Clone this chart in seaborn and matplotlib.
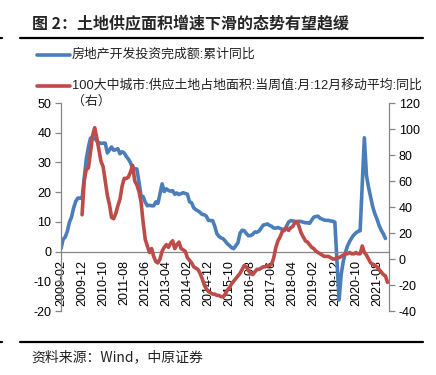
import numpy as np
import pandas as pd
import matplotlib
matplotlib.use("Agg")
import matplotlib.pyplot as plt
from matplotlib.lines import Line2D
import seaborn as sns

# -------------------------------
# Data (month index 0 = 2009-02)
# -------------------------------
nan = np.nan
# 房地产开发投资完成额:累计同比 (Jan has no value)
invest_yoy = [
    1.0, 4.1, 4.9, 6.8, 9.9, 11.6, 14.7, 16.9, 18.0, 18.0, 17.9, nan,        # 2009
    31.1, 35.1, 38.2, 38.2, 38.1, 37.2, 36.7, 36.4, 36.5, 36.5, 33.2, nan,   # 2010
    35.2, 34.1, 34.3, 34.6, 32.9, 33.6, 33.2, 32.0, 31.1, 29.9, 27.9, nan,   # 2011
    27.8, 23.5, 18.7, 18.5, 16.6, 15.4, 15.6, 15.4, 15.4, 16.7, 16.2, nan,   # 2012
    22.8, 20.2, 21.1, 20.6, 20.3, 20.5, 19.3, 19.7, 19.2, 19.5, 19.8, nan,   # 2013
    19.3, 16.8, 16.4, 14.7, 14.1, 13.7, 13.2, 12.5, 12.4, 11.9, 10.5, nan,   # 2014
    10.4, 8.5, 6.0, 5.1, 4.6, 4.3, 3.5, 2.6, 2.0, 1.3, 1.0, nan,             # 2015
    3.0, 6.2, 7.2, 7.0, 6.1, 5.3, 5.4, 5.8, 6.6, 6.5, 6.9, nan,              # 2016
    8.9, 9.1, 9.3, 8.8, 8.5, 7.9, 7.9, 8.1, 7.8, 7.5, 7.0, nan,              # 2017
    9.9, 10.4, 10.3, 10.2, 9.7, 10.2, 10.1, 9.9, 9.7, 9.7, 9.5, nan,         # 2018
    11.6, 11.8, 11.9, 11.2, 10.9, 10.6, 10.5, 10.5, 10.3, 10.2, 9.9, nan,    # 2019
    -16.3, -7.7, -3.3, -0.3, 1.9, 3.4, 4.6, 5.6, 6.3, 6.8, 7.0, nan,         # 2020
    38.3, 25.6, 21.6, 18.3, 15.0, 12.7, 10.9, 8.8, 7.2, 6.0, 4.4,            # 2021
]

# 100大中城市 land supply, 12M moving average YoY, starts 2009-12 (index 10)
land_start = 10
land_yoy = [
    34, 60, 69, 70, 82, 95, 101, 93, 84, 75, 71, 60, 49, 42, 32, 31, 35, 41,
    46, 56, 62, 62, 63, 67, 72, 60, 57, 52, 44, 28, 15, 10, 5, 8, 2, -2, -3,
    0, 6, 9, 11, 9, 12, 14, 8, 11, 13, 8, 7, 6, 1, -1, -3, -6, -7, -8, -11,
    -15, -20, -23, -25, -26, -27, -27, -28, -28, -29, -29, -27, -24, -22,
    -19, -17, -15, -13, -11, -8, -5, -6, -9, -11, -12, -10, -8, -8, -7, -6,
    -6, -5, -5, -4, 1, 9, 14, 17, 21, 23, 24, 22, 24, 25, 28, 29, 25, 20,
    17, 14, 13, 11, 9, 8, 6, 5, 4, 3, 2, 2, 2, 1, 0, 0, 1, 1, 2, 3, 4, 4, 5,
    4, 4, 5, 4, 4, 10, 5, 3, 0, -3, -4, -5, -6, -8, -10, -12, -13, -18,
]

tick_labels = ["2009-02", "2009-12", "2010-10", "2011-08", "2012-06", "2013-04",
               "2014-02", "2014-12", "2015-10", "2016-08", "2017-06", "2018-04",
               "2019-02", "2019-12", "2020-10", "2021-08"]

label_blue = "房地产开发投资完成额:累计同比"
label_red = "100大中城市:供应土地占地面积:当周值:月:12月移动平均:同比"

df_blue = pd.DataFrame({"m": np.arange(len(invest_yoy)), "v": invest_yoy}).dropna()
df_red = pd.DataFrame({"m": np.arange(land_start, land_start + len(land_yoy)), "v": land_yoy})

# -------------------------------
# Style
# -------------------------------
sns.set_style("white")
plt.rcParams["font.family"] = ["Liberation Sans", "Noto Sans CJK SC"]
plt.rcParams["axes.unicode_minus"] = False
CJK = ["Noto Sans CJK SC", "Liberation Sans"]

BLUE = "#4A7EBB"
RED = "#BE4B48"
GREY = "#868686"

fig = plt.figure(figsize=(4.36, 3.75), dpi=100)
ax = fig.add_axes([61 / 436, 1 - 311 / 375, (389 - 61) / 436, (311 - 103) / 375])
ax2 = ax.twinx()

sns.lineplot(data=df_blue, x="m", y="v", ax=ax, color=BLUE, lw=2.6, estimator=None)
sns.lineplot(data=df_red, x="m", y="v", ax=ax2, color=RED, lw=2.6, estimator=None)

ax.set_xlim(0, 155.7)
ax.set_ylim(-20, 50)
ax2.set_ylim(-40, 120)
ax.set_yticks(range(-20, 51, 10))
ax2.set_yticks(range(-40, 121, 20))
ax.set_xlabel("")
ax.set_ylabel("")
ax2.set_ylabel("")

for a in (ax, ax2):
    a.spines["top"].set_visible(False)
    for s in a.spines.values():
        s.set_color(GREY)
        s.set_linewidth(0.9)
ax.spines["right"].set_visible(False)
ax2.spines["left"].set_visible(False)
ax2.spines["bottom"].set_visible(False)
ax.spines["bottom"].set_position(("data", 0))

# ticks after moving the spine (set_position resets tick styling)
ax.set_xticks(range(0, 151, 10))
ax.set_xticklabels(tick_labels)
for a in (ax, ax2):
    a.tick_params(colors=GREY, labelcolor="black", labelsize=9, length=4, width=0.9)
ax.tick_params(axis="x", direction="out", pad=2, labelrotation=90)
ax.tick_params(axis="y", left=True, direction="out", pad=3)
ax2.tick_params(axis="y", right=True, direction="out", pad=3)

# -------------------------------
# Legend (drawn in figure pixels)
# -------------------------------
W, H = 436, 375
def fx(x): return x / W
def fy(y): return 1 - y / H

for y, c in ((55, BLUE), (86, RED)):
    fig.add_artist(Line2D([fx(37), fx(70)], [fy(y), fy(y)], color=c, lw=2.6))
fig.text(fx(72), fy(55), label_blue, fontsize=9.3, va="center", color="#222222")
fig.text(fx(72), fy(86), label_red, fontsize=9.3, va="center", color="#222222")
fig.text(fx(72), fy(101), "（右）", fontsize=9.3, va="center", color="#222222", family=CJK)

# -------------------------------
# Title, rules, source
# -------------------------------
fig.text(fx(32), fy(23), "图 2：土地供应面积增速下滑的态势有望趋缓",
         fontsize=11.5, fontweight="bold", va="center", family=CJK)
for y in (38, 342):
    fig.add_artist(Line2D([fx(20), fx(423)], [fy(y), fy(y)], color="black", lw=1.6))
    fig.add_artist(Line2D([0, fx(2)], [fy(y), fy(y)], color="black", lw=1.6))
fig.text(fx(31), fy(357), "资料来源：Wind，中原证券", fontsize=10, va="center",
         color="#222222", family=CJK)

fig.savefig("out.png", dpi=100)
